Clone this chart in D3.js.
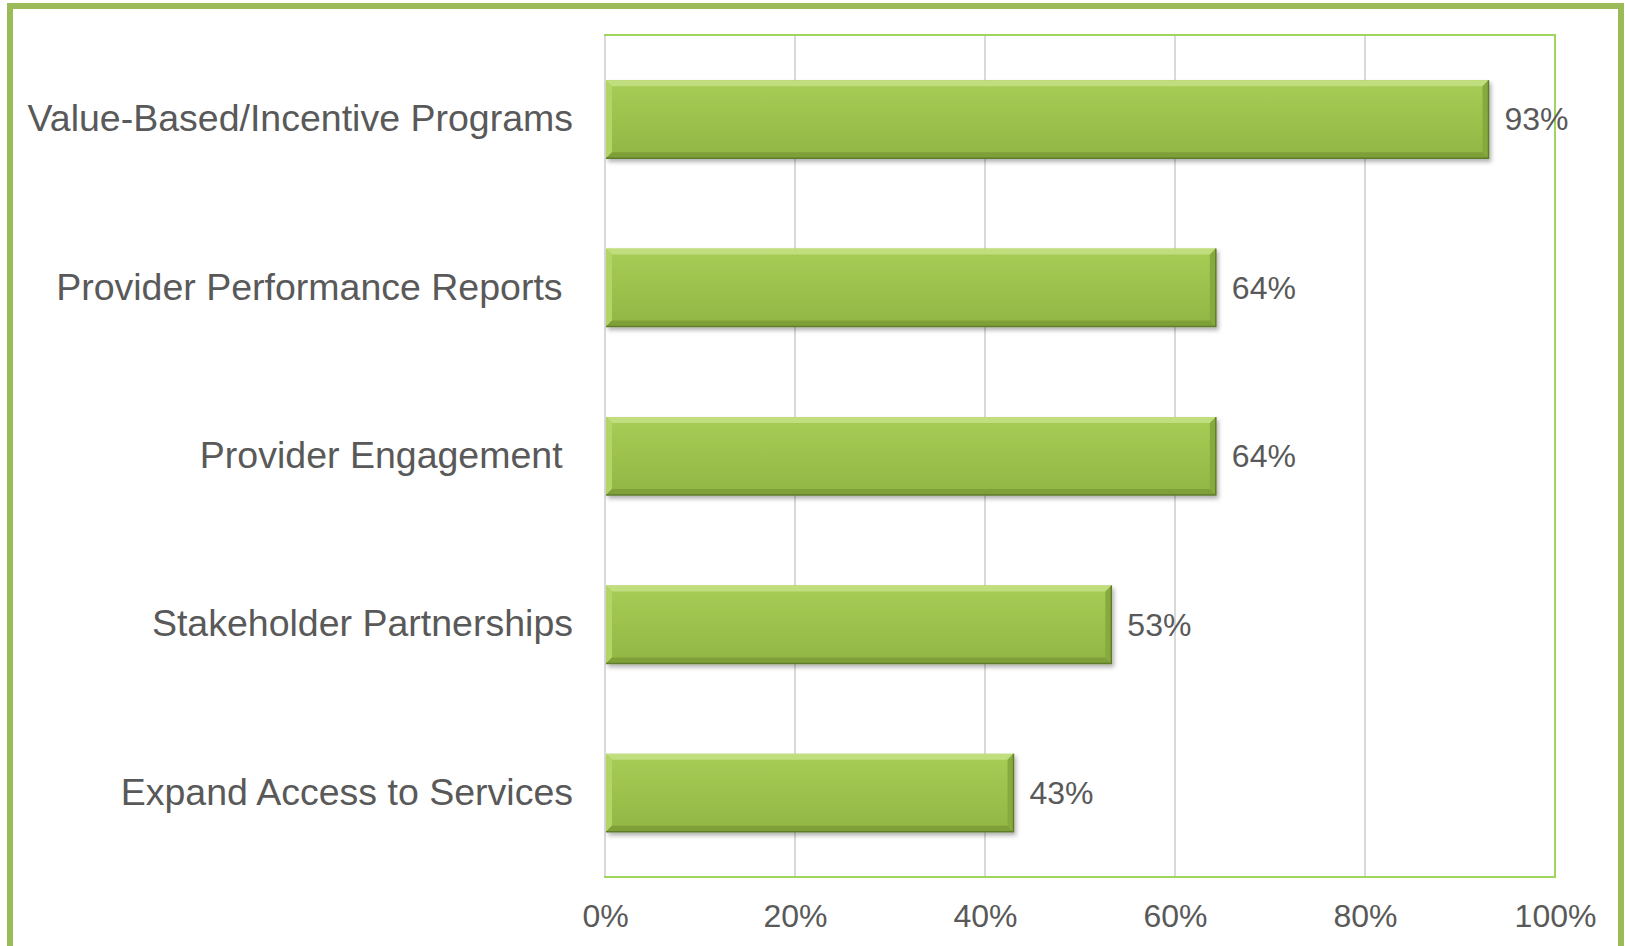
<!DOCTYPE html>
<html>
<head>
<meta charset="utf-8">
<script src="https://cdn.jsdelivr.net/npm/d3@7"></script>
<style>
  body { margin: 0; background: #fff; }
  text { font-family: "Liberation Sans", Arial, sans-serif; fill: #595959; white-space: pre; }
</style>
</head>
<body>
<svg id="chart"></svg>
<script>
// data
var categories = ["Value-Based/Incentive Programs", "Provider Performance Reports ", "Provider Engagement ", "Stakeholder Partnerships", "Expand Access to Services"],
    values = [0.93, 0.643, 0.643, 0.533, 0.43],
    tickValues = [0, 0.2, 0.4, 0.6, 0.8, 1.0];

var W = 1625, H = 946,
    plot = { left: 605, right: 1555, top: 35, bottom: 877 },
    bev = 6; // bevel size

var svg = d3.select("#chart").attr("width", W).attr("height", H);

var defs = svg.append("defs");
var grad = defs.append("linearGradient").attr("id", "barGrad")
    .attr("x1", 0).attr("y1", 0).attr("x2", 0).attr("y2", 1);
grad.append("stop").attr("offset", "0%").attr("stop-color", "#a8cd56");
grad.append("stop").attr("offset", "100%").attr("stop-color", "#92b644");

var shadow = defs.append("filter").attr("id", "shadow")
    .attr("x", "-5%").attr("y", "-20%").attr("width", "115%").attr("height", "150%");
shadow.append("feDropShadow").attr("dx", 2).attr("dy", 3).attr("stdDeviation", 2)
    .attr("flood-color", "#000").attr("flood-opacity", 0.3);

// outer frame
svg.append("rect")
    .attr("x", 10).attr("y", 6)
    .attr("width", W - 14).attr("height", H + 20)
    .attr("fill", "none")
    .attr("stroke", "#9bbb59")
    .attr("stroke-width", 6);

var x = d3.scaleLinear().domain([0, 1]).range([plot.left, plot.right]);
var y = d3.scaleBand().domain(categories).range([plot.top, plot.bottom])
    .paddingInner(0.537).paddingOuter(0.2685);

// gridlines
svg.append("g")
    .selectAll("line")
    .data(tickValues.slice(1, -1))
    .enter()
    .append("line")
    .attr("x1", function(d) { return x(d); })
    .attr("x2", function(d) { return x(d); })
    .attr("y1", plot.top).attr("y2", plot.bottom)
    .attr("stroke", "#d9d9d9")
    .attr("stroke-width", 2);

// plot border
svg.append("rect")
    .attr("x", plot.left).attr("y", plot.top)
    .attr("width", plot.right - plot.left).attr("height", plot.bottom - plot.top)
    .attr("fill", "none")
    .attr("stroke", "#9fd55f")
    .attr("stroke-width", 2);

// left axis line (gray inside)
svg.append("line")
    .attr("x1", plot.left).attr("x2", plot.left)
    .attr("y1", plot.top + 1).attr("y2", plot.bottom - 1)
    .attr("stroke", "#d9d9d9").attr("stroke-width", 2);

// x axis
var xAxis = d3.axisBottom(x)
    .tickValues(tickValues)
    .tickSize(0)
    .tickPadding(0)
    .tickFormat(d3.format(".0%"));

var gx = svg.append("g")
    .attr("transform", "translate(0," + (plot.bottom + 39) + ")")
    .call(xAxis);
gx.select(".domain").remove();
gx.selectAll("text")
    .attr("dy", "0.35em")
    .attr("font-size", 32)
    .attr("fill", "#595959");

// y axis labels
var yAxis = d3.axisLeft(y).tickSize(0).tickPadding(0);
var gy = svg.append("g")
    .attr("transform", "translate(573,0)")
    .call(yAxis);
gy.select(".domain").remove();
gy.selectAll("text")
    .attr("font-size", 37.5)
    .attr("fill", "#595959");

// bars
var bars = svg.append("g")
    .selectAll("g")
    .data(categories)
    .enter()
    .append("g")
    .attr("filter", "url(#shadow)");

bars.append("rect")
    .attr("x", x(0) + 1)
    .attr("y", function(d) { return y(d); })
    .attr("width", function(d, i) { return x(values[i]) - x(0) - 1; })
    .attr("height", y.bandwidth())
    .attr("fill", "url(#barGrad)");

function bevelPath(i, side) {
    var x0 = x(0) + 1, x1 = x(values[i]),
        y0 = y(categories[i]), y1 = y0 + y.bandwidth();
    var pts;
    if (side === "top") pts = [[x0, y0], [x1, y0], [x1 - bev, y0 + bev], [x0 + bev, y0 + bev]];
    if (side === "left") pts = [[x0, y0], [x0 + bev, y0 + bev], [x0 + bev, y1 - bev], [x0, y1]];
    if (side === "right") pts = [[x1, y0], [x1, y1], [x1 - bev, y1 - bev], [x1 - bev, y0 + bev]];
    if (side === "bottom") pts = [[x0, y1], [x0 + bev, y1 - bev], [x1 - bev, y1 - bev], [x1, y1]];
    return "M" + pts.join("L") + "Z";
}

var bevelColors = { top: "#c0de7e", left: "#b2d565", right: "#87aa3c", bottom: "#7f9f38" };
["top", "left", "right", "bottom"].forEach(function(side) {
    bars.append("path")
        .attr("d", function(d, i) { return bevelPath(i, side); })
        .attr("fill", bevelColors[side]);
});

// dark edge bottom and right
bars.append("path")
    .attr("d", function(d, i) {
        var x0 = x(0) + 1, x1 = x(values[i]),
            y0 = y(d), y1 = y0 + y.bandwidth();
        return "M" + x0 + "," + y1 + "L" + x1 + "," + y1 + "L" + x1 + "," + y0;
    })
    .attr("fill", "none")
    .attr("stroke", "#5f7c2b")
    .attr("stroke-width", 1.5);

// value labels
svg.append("g")
    .selectAll("text")
    .data(categories)
    .enter()
    .append("text")
    .attr("x", function(d, i) { return x(values[i]) + 16; })
    .attr("y", function(d) { return y(d) + y.bandwidth() / 2; })
    .attr("dy", "0.35em")
    .attr("font-size", 32)
    .text(function(d, i) { return d3.format(".0%")(values[i]); });
</script>
</body>
</html>
